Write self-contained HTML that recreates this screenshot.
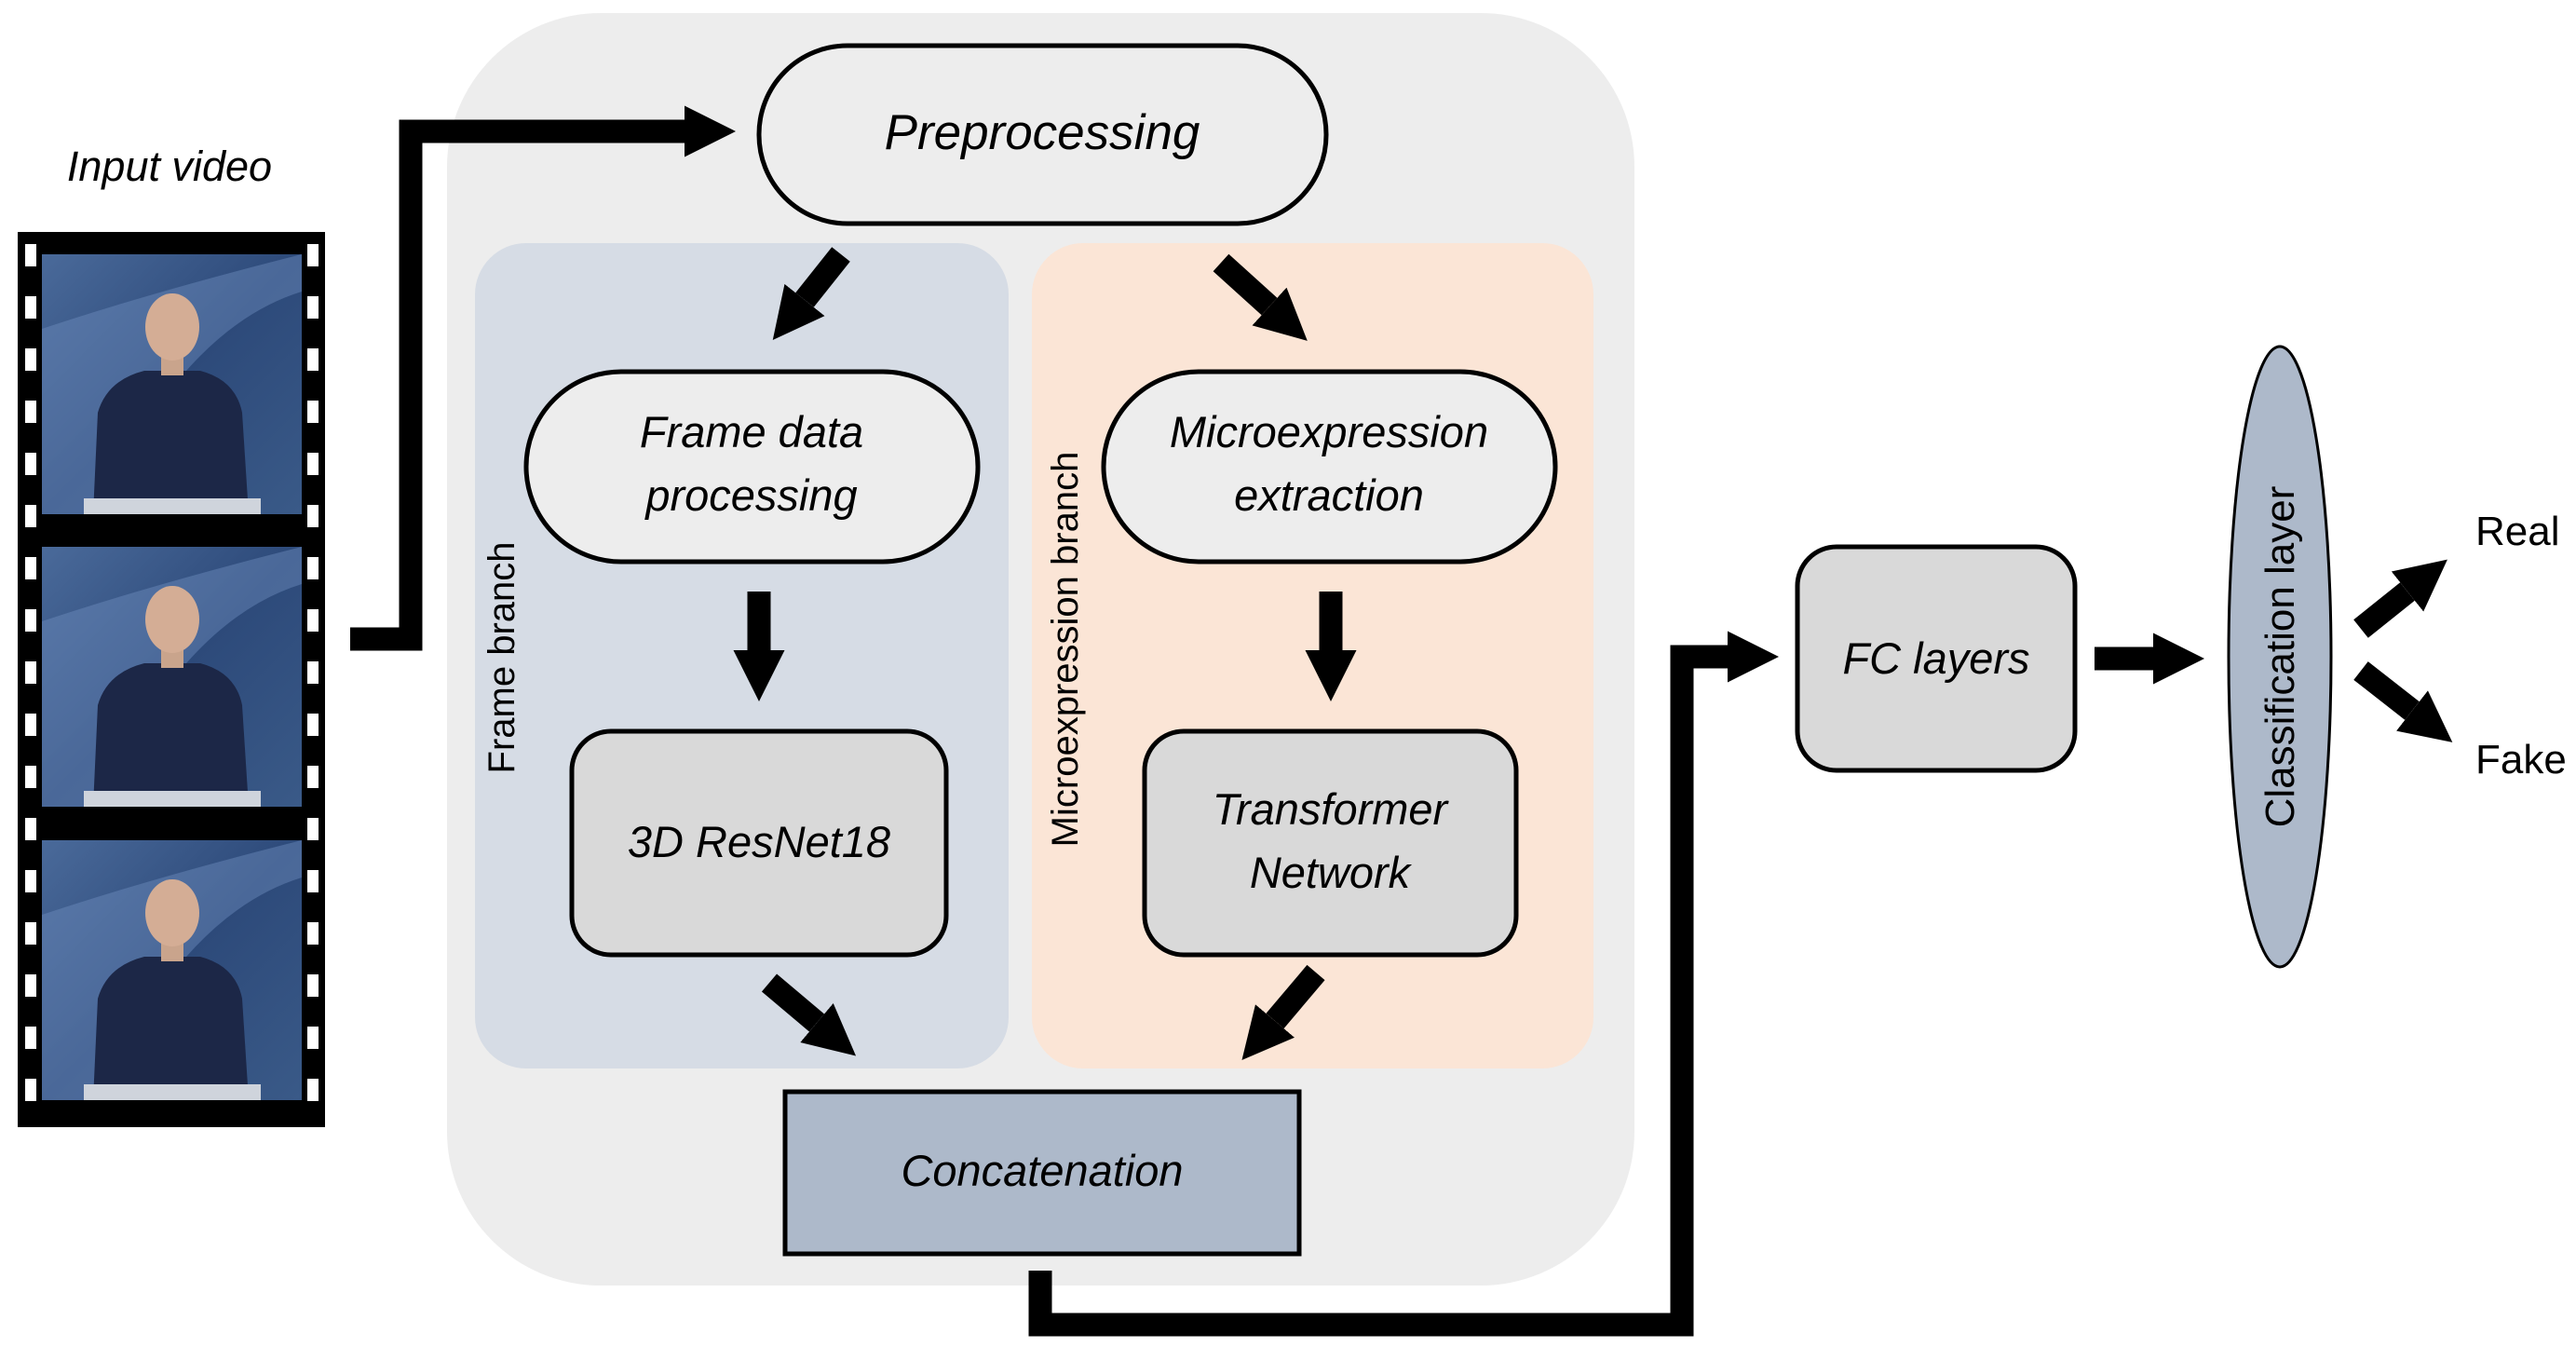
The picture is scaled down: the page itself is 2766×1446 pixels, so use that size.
<!DOCTYPE html>
<html><head><meta charset="utf-8"><style>
html,body{margin:0;padding:0;background:#fff;}
svg{display:block;}
text{font-family:"Liberation Sans",sans-serif;}
</style></head><body>
<svg width="2766" height="1446" viewBox="0 0 2766 1446" xmlns="http://www.w3.org/2000/svg">
<defs>
<marker id="ah" viewBox="0 0 10 10" refX="0" refY="5" markerWidth="2.2" markerHeight="2.6" orient="auto"><path d="M0,0 L10,5 L0,10 z" fill="#000"/></marker>
<linearGradient id="bg" x1="0" y1="0" x2="1" y2="1"><stop offset="0" stop-color="#4a6a9a"/><stop offset="0.5" stop-color="#2d4a7a"/><stop offset="1" stop-color="#3a5a88"/></linearGradient>
<g id="frame">
<rect width="279" height="279" fill="url(#bg)"/>
<path d="M0,80 Q120,40 279,0 L279,40 Q150,80 60,279 L0,279 z" fill="#6f8fbf" opacity="0.45"/>
<path d="M55,279 L60,170 Q70,135 110,125 L170,125 Q208,135 215,170 L222,279 z" fill="#1c2747"/>
<rect x="128" y="105" width="24" height="25" fill="#c9a48c"/>
<ellipse cx="140" cy="78" rx="29" ry="36" fill="#d4ad95"/>
<rect x="45" y="262" width="190" height="17" fill="#cfd4dc"/>
</g>
</defs>

<!-- outer grey container -->
<rect x="480" y="14" width="1275" height="1366" rx="165" fill="#ededed"/>
<!-- panels -->
<rect x="510" y="261" width="573" height="886" rx="55" fill="#d6dce5"/>
<rect x="1108" y="261" width="603" height="886" rx="55" fill="#fbe5d6"/>

<!-- Preprocessing -->
<rect x="815" y="49" width="609" height="191" rx="95" fill="#ededed" stroke="#000" stroke-width="5"/>
<text x="1119" y="160" font-size="53" font-style="italic" text-anchor="middle">Preprocessing</text>

<!-- Frame data processing -->
<rect x="565" y="399" width="485" height="204" rx="102" fill="#ededed" stroke="#000" stroke-width="5"/>
<text x="807" y="480" font-size="47" font-style="italic" text-anchor="middle">Frame data</text>
<text x="807" y="548" font-size="47" font-style="italic" text-anchor="middle">processing</text>

<!-- Microexpression extraction -->
<rect x="1185" y="399" width="485" height="204" rx="102" fill="#ededed" stroke="#000" stroke-width="5"/>
<text x="1427" y="480" font-size="47" font-style="italic" text-anchor="middle">Microexpression</text>
<text x="1427" y="548" font-size="47" font-style="italic" text-anchor="middle">extraction</text>

<!-- 3D ResNet18 -->
<rect x="614" y="785" width="402" height="240" rx="42" fill="#d9d9d9" stroke="#000" stroke-width="5"/>
<text x="815" y="920" font-size="47" font-style="italic" text-anchor="middle">3D ResNet18</text>

<!-- Transformer -->
<rect x="1229" y="785" width="399" height="240" rx="42" fill="#d9d9d9" stroke="#000" stroke-width="5"/>
<text x="1428" y="885" font-size="47" font-style="italic" text-anchor="middle">Transformer</text>
<text x="1428" y="953" font-size="47" font-style="italic" text-anchor="middle">Network</text>

<!-- Concatenation -->
<rect x="843" y="1172" width="552" height="174" fill="#adb9ca" stroke="#000" stroke-width="5"/>
<text x="1119" y="1273" font-size="47" font-style="italic" text-anchor="middle">Concatenation</text>

<!-- branch labels -->
<text transform="translate(552,706) rotate(-90)" font-size="40" text-anchor="middle">Frame branch</text>
<text transform="translate(1157,697) rotate(-90)" font-size="40" text-anchor="middle">Microexpression branch</text>

<!-- FC layers -->
<rect x="1930" y="587" width="298" height="240" rx="42" fill="#d9d9d9" stroke="#000" stroke-width="5"/>
<text x="2079" y="723" font-size="47" font-style="italic" text-anchor="middle">FC layers</text>

<!-- Classification ellipse -->
<ellipse cx="2448" cy="705" rx="55" ry="333" fill="#adb9ca" stroke="#000" stroke-width="3"/>
<text transform="translate(2463,705) rotate(-90)" font-size="44" text-anchor="middle">Classification layer</text>

<text x="2658" y="585" font-size="44">Real</text>
<text x="2658" y="830" font-size="44">Fake</text>

<!-- Input video -->
<text x="182" y="194" font-size="45" font-style="italic" text-anchor="middle">Input video</text>
<rect x="19" y="249" width="330" height="961" fill="#000"/>
<g fill="#fff">
<rect x="27" y="262" width="12" height="24"/><rect x="27" y="318" width="12" height="24"/><rect x="27" y="374" width="12" height="24"/><rect x="27" y="430" width="12" height="24"/><rect x="27" y="486" width="12" height="24"/><rect x="27" y="542" width="12" height="24"/><rect x="27" y="598" width="12" height="24"/><rect x="27" y="654" width="12" height="24"/><rect x="27" y="710" width="12" height="24"/><rect x="27" y="766" width="12" height="24"/><rect x="27" y="822" width="12" height="24"/><rect x="27" y="878" width="12" height="24"/><rect x="27" y="934" width="12" height="24"/><rect x="27" y="990" width="12" height="24"/><rect x="27" y="1046" width="12" height="24"/><rect x="27" y="1102" width="12" height="24"/><rect x="27" y="1158" width="12" height="24"/>
<rect x="330" y="262" width="12" height="24"/><rect x="330" y="318" width="12" height="24"/><rect x="330" y="374" width="12" height="24"/><rect x="330" y="430" width="12" height="24"/><rect x="330" y="486" width="12" height="24"/><rect x="330" y="542" width="12" height="24"/><rect x="330" y="598" width="12" height="24"/><rect x="330" y="654" width="12" height="24"/><rect x="330" y="710" width="12" height="24"/><rect x="330" y="766" width="12" height="24"/><rect x="330" y="822" width="12" height="24"/><rect x="330" y="878" width="12" height="24"/><rect x="330" y="934" width="12" height="24"/><rect x="330" y="990" width="12" height="24"/><rect x="330" y="1046" width="12" height="24"/><rect x="330" y="1102" width="12" height="24"/><rect x="330" y="1158" width="12" height="24"/>
</g>
<use href="#frame" x="45" y="273"/>
<use href="#frame" x="45" y="587"/>
<use href="#frame" x="45" y="902"/>

<!-- connectors -->
<g fill="none" stroke="#000" stroke-width="25" marker-end="url(#ah)">
<polyline points="376,686 441,686 441,141 735,141"/>
<polyline points="1117,1364 1117,1422 1806,1422 1806,705 1855,705"/>
<line x1="903" y1="273" x2="864" y2="322"/>
<line x1="1311" y1="282" x2="1363" y2="329"/>
<line x1="815" y1="635" x2="815" y2="698"/>
<line x1="1429" y1="635" x2="1429" y2="698"/>
<line x1="826" y1="1055" x2="877" y2="1098"/>
<line x1="1413" y1="1044" x2="1369" y2="1096"/>
<line x1="2249" y1="707" x2="2312" y2="707"/>
<line x1="2535" y1="675" x2="2585" y2="635"/>
<line x1="2535" y1="720" x2="2590" y2="763"/>
</g>
</svg>
</body></html>
